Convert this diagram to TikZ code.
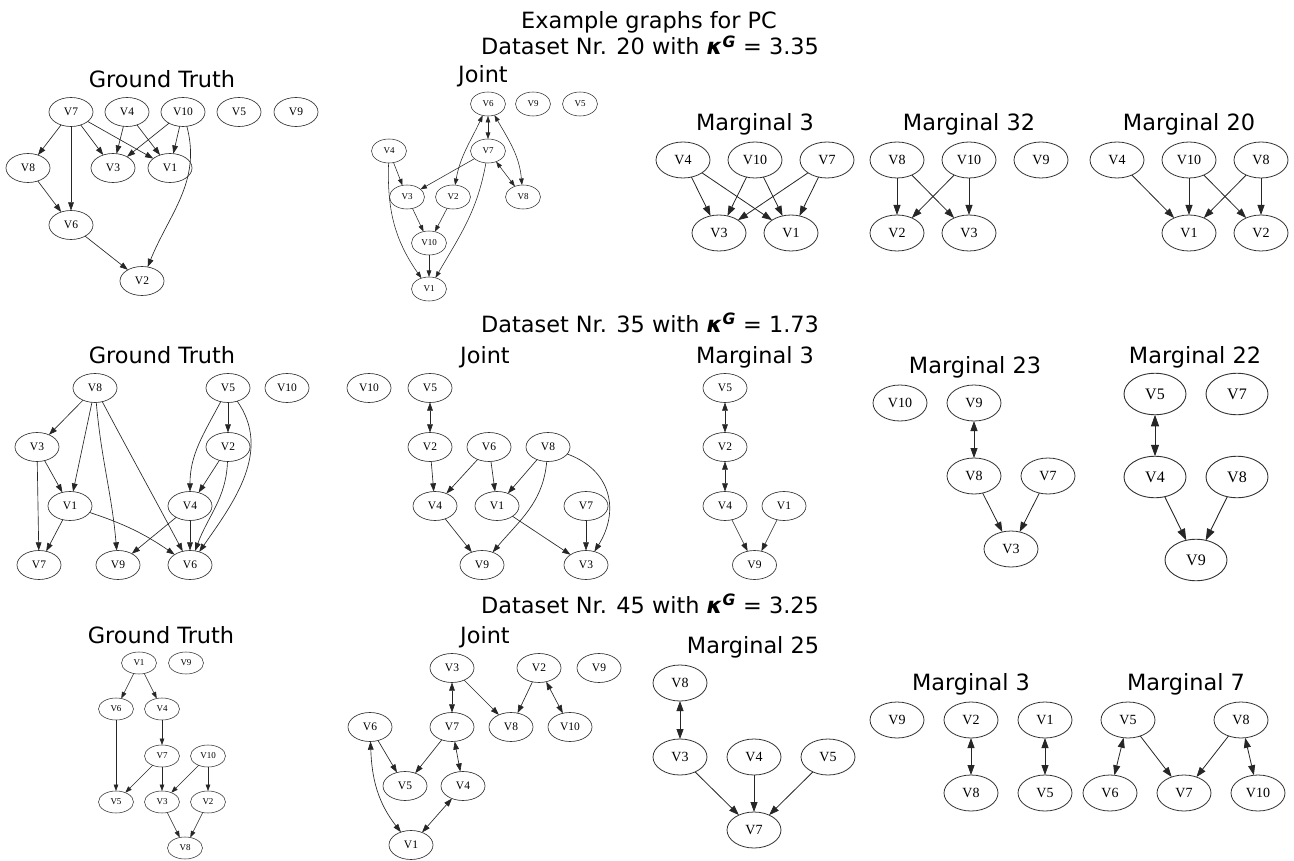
\documentclass[tikz,border=0pt]{standalone}
\usepackage{fontspec}
\setmainfont{DejaVu Sans}
\newfontfamily\gvfont{Liberation Serif}
\usetikzlibrary{shapes.geometric,arrows.meta}

% bold italic kappa with superscript G
\newcommand\kapG{{\bfseries\itshape κ\textsuperscript{G}}}

\tikzset{
  gvnode/.style={ellipse, draw=black!80, inner sep=0pt, outer sep=0pt},
  % node sizes for the different drawing scales
  nA/.style={gvnode, minimum width=35pt, minimum height=24pt, line width=0.55pt, font=\gvfont\fontsize{9}{9}\selectfont},
  nA2/.style={gvnode, minimum width=35pt, minimum height=22pt, line width=0.55pt, font=\gvfont\fontsize{9}{9}\selectfont},
  nB/.style={gvnode, minimum width=44pt, minimum height=29pt, line width=0.65pt, font=\gvfont\fontsize{11.5}{11.5}\selectfont},
  nD/.style={gvnode, minimum width=54pt, minimum height=36pt, line width=0.8pt, font=\gvfont\fontsize{14}{14}\selectfont},
  nE/.style={gvnode, minimum width=62pt, minimum height=41.5pt, line width=0.9pt, font=\gvfont\fontsize{16}{16}\selectfont},
  % directed and bidirected edges
  eA/.style={draw=black!85, line width=0.55pt, -{Triangle[length=6.5pt,width=4.6pt]}},
  bA/.style={draw=black!85, line width=0.55pt, {Triangle[length=6.5pt,width=4.6pt]}-{Triangle[length=6.5pt,width=4.6pt]}},
  eB/.style={draw=black!85, line width=0.65pt, -{Triangle[length=8.2pt,width=5.7pt]}},
  bB/.style={draw=black!85, line width=0.65pt, {Triangle[length=8.2pt,width=5.7pt]}-{Triangle[length=8.2pt,width=5.7pt]}},
  eD/.style={draw=black!85, line width=0.8pt, -{Triangle[length=10pt,width=7pt]}},
  bD/.style={draw=black!85, line width=0.8pt, {Triangle[length=10pt,width=7pt]}-{Triangle[length=10pt,width=7pt]}},
  eE/.style={draw=black!85, line width=0.9pt, -{Triangle[length=11.5pt,width=8pt]}},
  bE/.style={draw=black!85, line width=0.9pt, {Triangle[length=11.5pt,width=8pt]}-{Triangle[length=11.5pt,width=8pt]}},
  ttl/.style={anchor=base, inner sep=0pt, font=\fontsize{22.4}{26}\selectfont},
}

\begin{document}
\begin{tikzpicture}[x=1pt,y=-1pt]
\useasboundingbox[fill=white] (0,0) rectangle (1294,861);

% ---------- headings ----------
\node[ttl] (hd0) at (649,29) {Example graphs for PC};
\node[ttl] (hd1) at (650,55) {Dataset Nr. 20 with \kapG{} = 3.35};
\node[ttl] (hd2) at (650,332) {Dataset Nr. 35 with \kapG{} = 1.73};
\node[ttl] (hd3) at (650,613) {Dataset Nr. 45 with \kapG{} = 3.25};

% ---------- row 1 titles ----------
\node[ttl] (t1a) at (162,88) {Ground Truth};
\node[ttl] (t1b) at (483,83) {Joint};
\node[ttl] (t1c) at (755,131) {Marginal 3};
\node[ttl] (t1d) at (969,131) {Marginal 32};
\node[ttl] (t1e) at (1189,131) {Marginal 20};

% ---------- row 1: ground truth ----------
\node[nB] (a7) at (71,112) {V7};
\node[nB] (a4) at (127,112) {V4};
\node[nB] (a10) at (183,112) {V10};
\node[nB] (a5) at (239,112) {V5};
\node[nB] (a9) at (296,112) {V9};
\node[nB] (a8) at (28,168) {V8};
\node[nB] (a3) at (113,168) {V3};
\node[nB] (a1) at (170,168) {V1};
\node[nB] (a6) at (71,225) {V6};
\node[nB] (a2) at (142,281) {V2};
\draw[eB] (a7) -- (a8);
\draw[eB] (a7) -- (a6);
\draw[eB] (a7) -- (a3);
\draw[eB] (a7) -- (a1);
\draw[eB] (a4) -- (a3);
\draw[eB] (a4) -- (a1);
\draw[eB] (a10) -- (a3);
\draw[eB] (a10) -- (a1);
\draw[eB] (a10) to[out=-75,in=68] (a2);
\draw[eB] (a8) -- (a6);
\draw[eB] (a6) -- (a2);

% ---------- row 1: joint ----------
\node[nA] (b6) at (488,104) {V6};
\node[nA] (b9) at (533,104) {V9};
\node[nA] (b5) at (580,104) {V5};
\node[nA] (b4) at (389,151) {V4};
\node[nA] (b7) at (488,151) {V7};
\node[nA] (b3) at (407,197) {V3};
\node[nA] (b2) at (453,197) {V2};
\node[nA] (b8) at (523,197) {V8};
\node[nA] (b10) at (429,243) {V10};
\node[nA] (b1) at (429,289) {V1};
\draw[bA] (b6) -- (b7);
\draw[bA] (b6) to[out=-115,in=80] (b2);
\draw[bA] (b6) to[out=-60,in=95] (b8);
\draw[bA] (b7) -- (b8);
\draw[eA] (b7) -- (b3);
\draw[eA] (b7) to[out=-100,in=60] (b1);
\draw[eA] (b4) -- (b3);
\draw[eA] (b4) to[out=-92,in=125] (b1);
\draw[eA] (b3) -- (b10);
\draw[eA] (b2) -- (b10);
\draw[eA] (b10) -- (b1);

% ---------- row 1: marginal 3 ----------
\node[nD] (c4) at (683,160) {V4};
\node[nD] (c10) at (755,160) {V10};
\node[nD] (c7) at (827,160) {V7};
\node[nD] (c3) at (719,233) {V3};
\node[nD] (c1) at (791,233) {V1};
\draw[eD] (c4) -- (c3);
\draw[eD] (c4) -- (c1);
\draw[eD] (c10) -- (c3);
\draw[eD] (c10) -- (c1);
\draw[eD] (c7) -- (c3);
\draw[eD] (c7) -- (c1);

% ---------- row 1: marginal 32 ----------
\node[nD] (d8) at (897,160) {V8};
\node[nD] (d10) at (969,160) {V10};
\node[nD] (d9) at (1041,160) {V9};
\node[nD] (d2) at (897,233) {V2};
\node[nD] (d3) at (969,233) {V3};
\draw[eD] (d8) -- (d2);
\draw[eD] (d8) -- (d3);
\draw[eD] (d10) -- (d2);
\draw[eD] (d10) -- (d3);

% ---------- row 1: marginal 20 ----------
\node[nD] (e4) at (1117,160) {V4};
\node[nD] (e10) at (1189,160) {V10};
\node[nD] (e8) at (1261,160) {V8};
\node[nD] (e1) at (1189,233) {V1};
\node[nD] (e2) at (1261,233) {V2};
\draw[eD] (e4) -- (e1);
\draw[eD] (e10) -- (e1);
\draw[eD] (e10) -- (e2);
\draw[eD] (e8) -- (e1);
\draw[eD] (e8) -- (e2);

% ---------- row 2 titles ----------
\node[ttl] (t2a) at (162,363) {Ground Truth};
\node[ttl] (t2b) at (485,363) {Joint};
\node[ttl] (t2c) at (755,363) {Marginal 3};
\node[ttl] (t2d) at (975,373) {Marginal 23};
\node[ttl] (t2e) at (1195,363) {Marginal 22};

% ---------- row 2: ground truth ----------
\node[nB] (f8) at (95,388) {V8};
\node[nB] (f5) at (228,388) {V5};
\node[nB] (f10) at (287,388) {V10};
\node[nB] (f3) at (37,447) {V3};
\node[nB] (f2) at (228,447) {V2};
\node[nB] (f1) at (70,506) {V1};
\node[nB] (f4) at (190,506) {V4};
\node[nB] (f7) at (39,565) {V7};
\node[nB] (f9) at (118,565) {V9};
\node[nB] (f6) at (190,565) {V6};
\draw[eB] (f8) -- (f3);
\draw[eB] (f8) -- (f1);
\draw[eB] (f8) to[out=-85,in=95] (f9);
\draw[eB] (f8) to[out=-62,in=118] (f6);
\draw[eB] (f3) -- (f1);
\draw[eB] (f3) -- (f7);
\draw[eB] (f1) -- (f7);
\draw[eB] (f1) to[bend left=8] (f6);
\draw[eB] (f5) -- (f2);
\draw[eB] (f5) to[out=-118,in=90] (f4);
\draw[eB] (f5) to[out=-55,in=55] (f6);
\draw[eB] (f2) -- (f4);
\draw[eB] (f2) to[out=-92,in=70] (f6);
\draw[eB] (f4) -- (f9);
\draw[eB] (f4) -- (f6);

% ---------- row 2: joint ----------
\node[nB] (g10) at (369,388) {V10};
\node[nB] (g5) at (430,388) {V5};
\node[nB] (g2) at (430,447) {V2};
\node[nB] (g6) at (489,447) {V6};
\node[nB] (g8) at (548,447) {V8};
\node[nB] (g4) at (435,506) {V4};
\node[nB] (g1) at (497,506) {V1};
\node[nB] (g7) at (586,506) {V7};
\node[nB] (g9) at (482,565) {V9};
\node[nB] (g3) at (586,565) {V3};
\draw[bB] (g5) -- (g2);
\draw[eB] (g2) -- (g4);
\draw[eB] (g6) -- (g4);
\draw[eB] (g6) -- (g1);
\draw[eB] (g8) -- (g1);
\draw[eB] (g8) to[out=-95,in=50] (g9);
\draw[eB] (g8) to[out=-20,in=58,looseness=1.2] (g3);
\draw[eB] (g4) -- (g9);
\draw[eB] (g1) -- (g3);
\draw[eB] (g7) -- (g3);

% ---------- row 2: marginal 3 ----------
\node[nB] (h5) at (725,388) {V5};
\node[nB] (h2) at (725,447) {V2};
\node[nB] (h4) at (725,506) {V4};
\node[nB] (h1) at (784,506) {V1};
\node[nB] (h9) at (754.5,565) {V9};
\draw[bB] (h5) -- (h2);
\draw[bB] (h2) -- (h4);
\draw[eB] (h4) -- (h9);
\draw[eB] (h1) -- (h9);

% ---------- row 2: marginal 23 ----------
\node[nD] (i10) at (900,403) {V10};
\node[nD] (i9) at (974,403) {V9};
\node[nD] (i8) at (974,476) {V8};
\node[nD] (i7) at (1048,476) {V7};
\node[nD] (i3) at (1011,549) {V3};
\draw[bD] (i9) -- (i8);
\draw[eD] (i8) -- (i3);
\draw[eD] (i7) -- (i3);

% ---------- row 2: marginal 22 ----------
\node[nE] (j5) at (1155,394) {V5};
\node[nE] (j7) at (1237,394) {V7};
\node[nE] (j4) at (1155,477) {V4};
\node[nE] (j8) at (1237,477) {V8};
\node[nE] (j9) at (1196,560) {V9};
\draw[bE] (j5) -- (j4);
\draw[eE] (j4) -- (j9);
\draw[eE] (j8) -- (j9);

% ---------- row 3 titles ----------
\node[ttl] (t3a) at (161,643) {Ground Truth};
\node[ttl] (t3b) at (485,643) {Joint};
\node[ttl] (t3c) at (753,653) {Marginal 25};
\node[ttl] (t3d) at (971,690) {Marginal 3};
\node[ttl] (t3e) at (1186,690) {Marginal 7};

% ---------- row 3: ground truth ----------
\node[nA2] (k1) at (139,663) {V1};
\node[nA2] (k9) at (186,663) {V9};
\node[nA2] (k6) at (116,709) {V6};
\node[nA2] (k4) at (162,709) {V4};
\node[nA2] (k7) at (162,756) {V7};
\node[nA2] (k10) at (208,756) {V10};
\node[nA2] (k5) at (116,802) {V5};
\node[nA2] (k3) at (162,802) {V3};
\node[nA2] (k2) at (208,802) {V2};
\node[nA2] (k8) at (185,848) {V8};
\draw[eA] (k1) -- (k6);
\draw[eA] (k1) -- (k4);
\draw[eA] (k4) -- (k7);
\draw[eA] (k6) -- (k5);
\draw[eA] (k7) -- (k5);
\draw[eA] (k7) -- (k3);
\draw[eA] (k10) -- (k3);
\draw[eA] (k10) -- (k2);
\draw[eA] (k3) -- (k8);
\draw[eA] (k2) -- (k8);

% ---------- row 3: joint ----------
\node[nB] (l3) at (452,668) {V3};
\node[nB] (l2) at (539,668) {V2};
\node[nB] (l9) at (599,668) {V9};
\node[nB] (l6) at (370,727) {V6};
\node[nB] (l7) at (452,727) {V7};
\node[nB] (l8) at (511,727) {V8};
\node[nB] (l10) at (570,727) {V10};
\node[nB] (l5) at (405,786) {V5};
\node[nB] (l4) at (463,786) {V4};
\node[nB] (l1) at (411,845) {V1};
\draw[bB] (l3) -- (l7);
\draw[eB] (l3) -- (l8);
\draw[eB] (l2) -- (l8);
\draw[bB] (l2) -- (l10);
\draw[eB] (l6) -- (l5);
\draw[eB] (l7) -- (l5);
\draw[bB] (l7) -- (l4);
\draw[bB] (l6) to[out=-88,in=128] (l1);
\draw[bB] (l4) -- (l1);

% ---------- row 3: marginal 25 ----------
\node[nD] (m8) at (680,683) {V8};
\node[nD] (m3) at (680,757) {V3};
\node[nD] (m4) at (754,757) {V4};
\node[nD] (m5) at (828,757) {V5};
\node[nD] (m7) at (754,830) {V7};
\draw[bD] (m8) -- (m3);
\draw[eD] (m3) -- (m7);
\draw[eD] (m4) -- (m7);
\draw[eD] (m5) -- (m7);

% ---------- row 3: marginal 3 ----------
\node[nD] (n9) at (897,720) {V9};
\node[nD] (n2) at (971,720) {V2};
\node[nD] (n1) at (1045,720) {V1};
\node[nD] (n8) at (971,793) {V8};
\node[nD] (n5) at (1045,793) {V5};
\draw[bD] (n2) -- (n8);
\draw[bD] (n1) -- (n5);

% ---------- row 3: marginal 7 ----------
\node[nD] (o5) at (1128,720) {V5};
\node[nD] (o8) at (1241,720) {V8};
\node[nD] (o6) at (1110,793) {V6};
\node[nD] (o7) at (1184,793) {V7};
\node[nD] (o10) at (1258,793) {V10};
\draw[bD] (o5) -- (o6);
\draw[eD] (o5) -- (o7);
\draw[eD] (o8) -- (o7);
\draw[bD] (o8) -- (o10);
\end{tikzpicture}
\end{document}
